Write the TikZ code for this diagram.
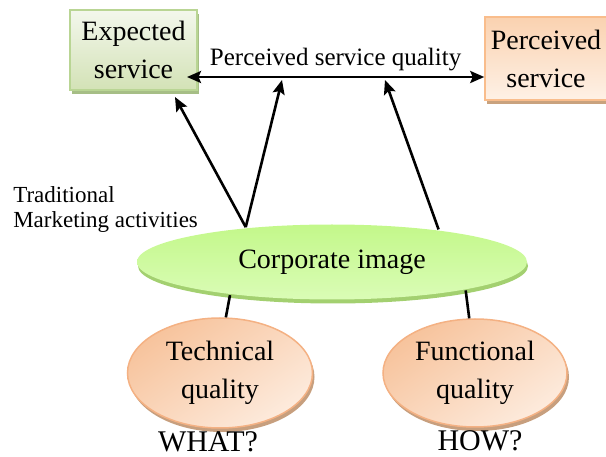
\documentclass[tikz,border=0pt]{standalone}
\usepackage{fontspec}
\setmainfont{Liberation Serif}
\usepackage{tikz}
\usetikzlibrary{arrows.meta, shapes.geometric, shadows}
\usetikzlibrary{positioning}

\definecolor{expfill}{HTML}{F3F7EC}
\definecolor{expfillb}{HTML}{D3E2B6}
\definecolor{expline}{HTML}{B9D594}
\definecolor{expshadow}{HTML}{A6BE86}
\definecolor{percfill}{HTML}{FAD2B0}
\definecolor{percfillb}{HTML}{FEF1E6}
\definecolor{percline}{HTML}{F9BD8C}
\definecolor{percshadow}{HTML}{C9A27E}
\definecolor{imgfill}{HTML}{C3F88A}
\definecolor{imgfillb}{HTML}{DAFCB6}
\definecolor{imgshadow}{HTML}{A3D070}
\definecolor{qualfill}{HTML}{F7C39C}
\definecolor{qualfillb}{HTML}{FDEBDD}
\definecolor{qualline}{HTML}{F4B183}
\definecolor{qualshadow}{HTML}{C79F7E}

\begin{document}
\begin{tikzpicture}[x=1pt, y=-1pt, >={Stealth[length=14pt,width=12pt,inset=2.5pt]}, line width=2.6pt,
    big text/.style={font=\fontsize{28}{38}\selectfont, align=center, inner sep=0pt},
    green box/.style={big text, rectangle, draw=expline, line width=1.5pt, top color=expfill, bottom color=expfillb,
        drop shadow={shadow xshift=2pt, shadow yshift=-4pt, fill=expshadow, opacity=1}},
    peach box/.style={big text, rectangle, draw=percline, line width=1.5pt, top color=percfill, bottom color=percfillb,
        drop shadow={shadow xshift=2pt, shadow yshift=-4pt, fill=percshadow, opacity=1}},
    green oval/.style={big text, ellipse, draw=none, top color=imgfill, bottom color=imgfillb,
        drop shadow={shadow xshift=1pt, shadow yshift=-4pt, fill=imgshadow, opacity=1}},
    peach oval/.style={big text, ellipse, draw=qualline, line width=1.5pt, top color=qualfill, bottom color=qualfillb, shading angle=35,
        drop shadow={shadow xshift=2pt, shadow yshift=-4pt, fill=qualshadow, opacity=1}},
    tag/.style={font=\fontsize{30}{36}\selectfont, inner sep=0pt}]
    \useasboundingbox (0,0) rectangle (606,457);
    \clip (0,0) rectangle (606,457);

    \node[green box, minimum width=127pt, minimum height=80pt] (exp) at (133.5,50) {Expected\\service};
    \node[peach box, minimum width=122pt, minimum height=83pt] (perc) at (546,58.5) {Perceived\\service};
    \node[green oval, minimum width=390pt, minimum height=75pt] (corp) at (332,262) {Corporate image};
    \node[peach oval, minimum width=185pt, minimum height=110pt] (tech) at (220,373) {Technical\\quality};
    \node[peach oval, minimum width=184pt, minimum height=108pt] (func) at (475,373) {Functional\\quality};
    \node[tag, below=2pt of tech, xshift=-12pt] (what) {WHAT?};
    \node[tag, below=2pt of func, xshift=5pt] (how) {HOW?};
    \node[anchor=north west, align=left, inner sep=0pt, font=\fontsize{23}{25}\selectfont] (trad) at (12,185) {Traditional\\Marketing activities};

    \coordinate (qleft) at (187,77);
    \coordinate (qright) at (perc.west |- qleft);
    \coordinate (tipexp) at (175,97);
    \coordinate (tipmid) at (282,80);
    \coordinate (tipright) at (385,80);

    \draw[<->] (qleft) -- node[above=5pt, inner sep=0pt, font=\fontsize{25}{30}\selectfont] (psq) {Perceived service quality} (qright);
    \draw[->] (corp.158) -- (tipexp);
    \draw[->] (corp.158) -- (tipmid);
    \draw[->] (corp.17) -- (tipright);
    \draw (corp.198) -- (tech.84);
    \draw (corp.-12) -- (func.96);
\end{tikzpicture}
\end{document}
